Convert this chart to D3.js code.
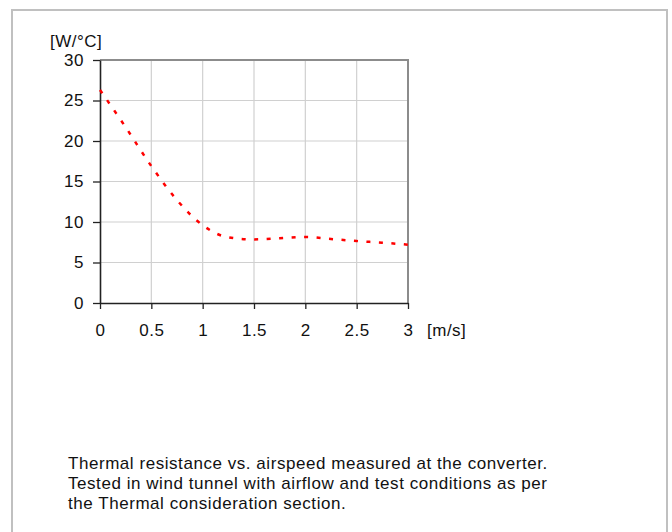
<!DOCTYPE html>
<html>
<head>
    <script src="https://cdnjs.cloudflare.com/ajax/libs/d3/7.8.5/d3.min.js"></script>
    <style>
        body { margin: 0; padding: 0; background: white; }
        svg text { font-family: "Liberation Sans", Arial, sans-serif; fill: #111; letter-spacing: 0.5px; }
    </style>
</head>
<body>
    <svg id="chart" width="672" height="532"></svg>
    <script>
        // airspeed [m/s] and thermal value [W/°C]
        const airspeed = [0, 0.25, 0.5, 0.75, 1, 1.25, 1.5, 1.75, 2, 2.25, 2.5, 2.75, 3];
        const thermal = [26.3, 21.7, 16.9, 12.7, 9.6, 8.1, 7.85, 8.0, 8.15, 7.9, 7.65, 7.45, 7.2];
        const xTicks = [0, 0.5, 1, 1.5, 2, 2.5, 3];
        const yTicks = [0, 5, 10, 15, 20, 25, 30];
        const caption = [
            'Thermal resistance vs. airspeed measured at the converter.',
            'Tested in wind tunnel with airflow and test conditions as per',
            'the Thermal consideration section.'
        ];

        const svg = d3.select('#chart');

        // outer frame (no bottom edge, it runs off the page)
        svg.append('path')
            .attr('d', 'M12,532V10H667V532')
            .attr('fill', 'none')
            .attr('stroke', '#c0c0c0')
            .attr('stroke-width', 2);

        const plotL = 100, plotR = 408, plotT = 60, plotB = 303;
        const x = d3.scaleLinear().domain([0, 3]).range([plotL, plotR]);
        const y = d3.scaleLinear().domain([0, 30]).range([plotB, plotT]);

        // grid
        svg.append('g').selectAll('line')
            .data(xTicks.slice(1, -1))
            .join('line')
            .attr('x1', d => x(d)).attr('x2', d => x(d))
            .attr('y1', plotT).attr('y2', plotB)
            .attr('stroke', '#d0d0d0').attr('stroke-width', 1.2);
        svg.append('g').selectAll('line')
            .data(yTicks.slice(1, -1))
            .join('line')
            .attr('x1', plotL).attr('x2', plotR)
            .attr('y1', d => y(d)).attr('y2', d => y(d))
            .attr('stroke', '#d0d0d0').attr('stroke-width', 1.2);

        // top and right frame of plot
        svg.append('path')
            .attr('d', `M${plotL},${plotT}H${plotR}V${plotB}`)
            .attr('fill', 'none')
            .attr('stroke', '#8c8c8c')
            .attr('stroke-width', 2);

        // axes
        const yAxis = svg.append('g')
            .attr('transform', `translate(${plotL},0)`)
            .call(d3.axisLeft(y).tickValues(yTicks).tickSize(7).tickPadding(9).tickSizeOuter(0));
        const xAxis = svg.append('g')
            .attr('transform', `translate(0,${plotB})`)
            .call(d3.axisBottom(x).tickValues(xTicks).tickFormat(d3.format('')).tickSize(6).tickPadding(15).tickSizeOuter(0));
        [yAxis, xAxis].forEach(a => {
            a.select('.domain').attr('stroke', '#222').attr('stroke-width', 1.6);
            a.selectAll('.tick line').attr('stroke', '#222').attr('stroke-width', 1.3);
            a.selectAll('.tick text').attr('font-size', 17).attr('fill', '#111')
                .attr('font-family', '"Liberation Sans", Arial, sans-serif');
        });

        // units
        svg.append('text').attr('x', 50).attr('y', 47).attr('font-size', 17).text('[W/°C]');
        svg.append('text').attr('x', 427).attr('y', 336).attr('font-size', 17).text('[m/s]');

        // curve
        const line = d3.line()
            .x((d, i) => x(airspeed[i]))
            .y(d => y(d))
            .curve(d3.curveMonotoneX);
        svg.append('path')
            .datum(thermal)
            .attr('d', line)
            .attr('fill', 'none')
            .attr('stroke', '#ff0000')
            .attr('stroke-width', 2.5)
            .attr('stroke-dasharray', '4,8.5');

        // caption
        svg.append('g').selectAll('text')
            .data(caption)
            .join('text')
            .attr('x', 68)
            .attr('y', (d, i) => 469 + i * 20)
            .attr('font-size', 17)
            .style('letter-spacing', '0.55px')
            .text(d => d);
    </script>
</body>
</html>
